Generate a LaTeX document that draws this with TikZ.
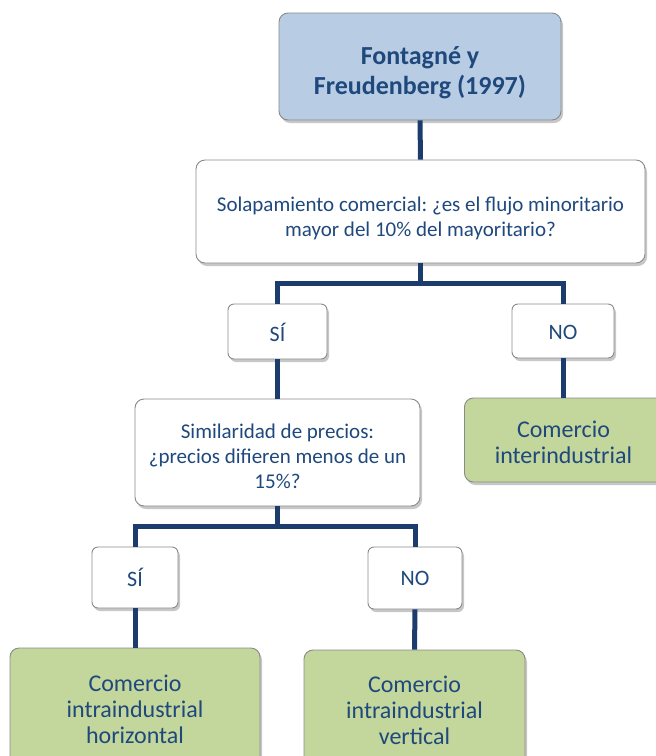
\documentclass[tikz,border=0pt]{standalone}
\usepackage{fontspec}
\setmainfont{Carlito}
\usetikzlibrary{shadows}
\definecolor{txt}{HTML}{1F497D}
\definecolor{lnc}{HTML}{1C3C6E}
\definecolor{bluef}{HTML}{B8CCE4}
\definecolor{greenf}{HTML}{C3D69B}
\definecolor{bord}{HTML}{8A8A8A}
\newcommand\dn[2]{\raisebox{-#1}[\height][\depth]{\begin{tabular}{@{}c@{}}#2\end{tabular}}}
\frenchspacing
\begin{document}
\begin{tikzpicture}[x=1pt,y=-1pt,
  box/.style={draw=bord, line width=0.9pt, rounded corners=9pt, text=txt, align=center, inner sep=0pt,
    drop shadow={shadow xshift=2pt, shadow yshift=-3pt, fill=black, opacity=0.22}},
  qbox/.style={box, fill=white, font=\fontsize{21}{25}\selectfont},
  ansbox/.style={box, fill=white, rounded corners=6pt, font=\fontsize{22}{24}\selectfont},
  resbox/.style={box, fill=greenf, font=\fontsize{24}{26}\selectfont},
  conn/.style={draw=lnc, line width=5pt, line join=miter}]
\useasboundingbox (0,0) rectangle (656,756);
\clip (0,0) rectangle (656,756);
\node[box, fill=bluef, minimum width=282pt, minimum height=107pt, font=\bfseries\fontsize{26}{30}\selectfont] (top) at (420,66.5) {\dn{7pt}{Fontagné y\\Freudenberg (1997)}};
\node[qbox, minimum width=449pt, minimum height=103pt] (q1) at (420.5,211.5) {\dn{7pt}{Solapamiento comercial: ¿es el flujo minoritario\\mayor del 10\% del mayoritario?}};
\node[ansbox, minimum width=99pt, minimum height=55pt] (si1) at (277.5,331.5) {\dn{4pt}{SÍ}};
\node[ansbox, minimum width=102pt, minimum height=54pt] (no1) at (563,331) {\dn{4pt}{NO}};
\node[qbox, minimum width=285pt, minimum height=107pt] (q2) at (277.5,452.5) {\dn{6pt}{Similaridad de precios:\\¿precios difieren menos de un\\15\%?}};
\node[resbox, minimum width=206pt, minimum height=84pt, anchor=west] (inter) at (464,440) {\dn{5pt}{\hspace*{-8pt}Comercio\\\hspace*{-8pt}interindustrial}};
\node[ansbox, minimum width=86pt, minimum height=61pt] (si2) at (135,577.5) {\dn{3pt}{SÍ}};
\node[ansbox, minimum width=94pt, minimum height=62pt] (no2) at (415,578) {\dn{3pt}{NO}};
\node[resbox, minimum width=250pt, minimum height=122pt] (hor) at (135,709) {Comercio\\intraindustrial\\horizontal};
\node[resbox, minimum width=221pt, minimum height=120pt] (ver) at (414.5,710) {Comercio\\intraindustrial\\vertical};
\coordinate (b1) at (421,283);
\coordinate (b2) at (277,526);
\draw[conn] (top.south) -- (q1.north);
\draw[conn] (q1.south) -- (q1.south |- b1);
\draw[conn] (si1.north) |- (b1) -| (no1.north);
\draw[conn] (si1.south) -- (q2.north);
\draw[conn] (no1.south) -- (no1.south |- inter.north);
\draw[conn] (q2.south) -- (q2.south |- b2);
\draw[conn] (si2.north) |- (b2) -| (no2.north);
\draw[conn] (si2.south) -- (hor.north);
\draw[conn] (no2.south) -- (ver.north);
\end{tikzpicture}
\end{document}
